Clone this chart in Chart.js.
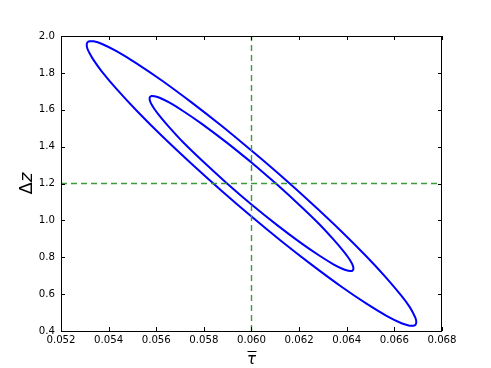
<!DOCTYPE html>
<html>
<head>
<meta charset="utf-8">
<script src="https://cdn.jsdelivr.net/npm/chart.js@4.4.1/dist/chart.umd.min.js"></script>
<style>
  html, body { margin: 0; padding: 0; background: #fff; }
</style>
</head>
<body>
<canvas id="contourChart" width="491" height="368"></canvas>
<script>
// Outer contour (tau bar, delta z)
const outerX = [0.06000, 0.06126, 0.06252, 0.06378, 0.06483, 0.06567, 0.06630, 0.06664, 0.06680, 0.06689, 0.06692,
    0.06689, 0.06680, 0.06664, 0.06630, 0.06567, 0.06483, 0.06378, 0.06252, 0.06126, 0.06000,
    0.05874, 0.05748, 0.05622, 0.05517, 0.05433, 0.05370, 0.05337, 0.05320, 0.05311, 0.05308,
    0.05311, 0.05320, 0.05337, 0.05370, 0.05433, 0.05517, 0.05622, 0.05748, 0.05874, 0.06000];
const outerY = [1.379, 1.239, 1.093, 0.940, 0.804, 0.687, 0.590, 0.531, 0.494, 0.469, 0.449,
    0.435, 0.429, 0.429, 0.442, 0.482, 0.548, 0.640, 0.760, 0.887, 1.021,
    1.161, 1.307, 1.460, 1.596, 1.713, 1.810, 1.869, 1.906, 1.931, 1.951,
    1.965, 1.971, 1.971, 1.958, 1.918, 1.852, 1.760, 1.640, 1.513, 1.379];

// Inner contour
const innerX = [0.06000, 0.06105, 0.06210, 0.06286, 0.06344, 0.06386, 0.06407, 0.06420, 0.06426, 0.06428,
    0.06426, 0.06420, 0.06407, 0.06386, 0.06344, 0.06286, 0.06210, 0.06105, 0.06000,
    0.05895, 0.05790, 0.05714, 0.05656, 0.05614, 0.05593, 0.05580, 0.05574, 0.05572,
    0.05574, 0.05580, 0.05593, 0.05614, 0.05656, 0.05714, 0.05790, 0.05895, 0.06000];
const innerY = [1.314, 1.197, 1.073, 0.978, 0.897, 0.833, 0.797, 0.770, 0.753, 0.739,
    0.730, 0.725, 0.727, 0.735, 0.762, 0.808, 0.875, 0.977, 1.086,
    1.203, 1.327, 1.422, 1.503, 1.567, 1.603, 1.630, 1.647, 1.661,
    1.670, 1.675, 1.673, 1.665, 1.638, 1.592, 1.525, 1.423, 1.314];

// Fiducial values (dashed lines)
const fidTau = 0.060;
const fidDz = 1.2;

// Axis ticks
const xTickValues = [0.052, 0.054, 0.056, 0.058, 0.060, 0.062, 0.064, 0.066, 0.068];
const yTickValues = [0.4, 0.6, 0.8, 1.0, 1.2, 1.4, 1.6, 1.8, 2.0];

const toPoints = (xs, ys) => xs.map((x, i) => ({ x: x, y: ys[i] }));

// Frame, inward ticks and the two axis titles
const framePlugin = {
    id: 'frame',
    afterDraw(chart) {
        const { ctx, chartArea: a, scales } = chart;
        ctx.save();
        ctx.strokeStyle = '#000';
        ctx.lineWidth = 1;
        ctx.strokeRect(a.left + 0.5, a.top + 0.5, a.right - a.left - 1, a.bottom - a.top);

        const tl = 4;
        ctx.beginPath();
        xTickValues.forEach(v => {
            const px = Math.round(scales.x.getPixelForValue(v)) + 0.5;
            ctx.moveTo(px, a.bottom);
            ctx.lineTo(px, a.bottom - tl);
            ctx.moveTo(px, a.top);
            ctx.lineTo(px, a.top + tl);
        });
        yTickValues.forEach(v => {
            const py = Math.round(scales.y.getPixelForValue(v)) + 0.5;
            ctx.moveTo(a.left, py);
            ctx.lineTo(a.left + tl, py);
            ctx.moveTo(a.right, py);
            ctx.lineTo(a.right - tl, py);
        });
        ctx.stroke();

        // y title: upright Delta, italic z, rotated
        ctx.fillStyle = '#000';
        ctx.textBaseline = 'middle';
        ctx.textAlign = 'left';
        const up = '18px "DejaVu Sans"';
        const it = 'italic 18px "DejaVu Sans"';
        ctx.font = up;
        const wD = ctx.measureText('\u0394').width;
        ctx.font = it;
        const wz = ctx.measureText('z').width;
        ctx.save();
        ctx.translate(27, (a.top + a.bottom) / 2);
        ctx.rotate(-Math.PI / 2);
        ctx.font = up;
        ctx.fillText('\u0394', -(wD + wz) / 2, 0);
        ctx.font = it;
        ctx.fillText('z', -(wD + wz) / 2 + wD, 0);
        ctx.restore();

        // x title: italic tau with a bar over it
        const cx = (a.left + a.right) / 2;
        ctx.font = 'italic 15px "DejaVu Sans"';
        ctx.textAlign = 'center';
        ctx.textBaseline = 'alphabetic';
        ctx.fillText('\u03C4', cx, 363.5);
        ctx.beginPath();
        ctx.moveTo(cx - 4, 351.5);
        ctx.lineTo(cx + 5, 351.5);
        ctx.stroke();
        ctx.restore();
    }
};

function initializeChart() {
    const ctx = document.getElementById('contourChart');

    new Chart(ctx, {
        type: 'scatter',
        data: {
            datasets: [
                {
                    data: [{ x: fidTau, y: 0.4 }, { x: fidTau, y: 2.0 }],
                    showLine: true,
                    borderColor: '#3c9c3c',
                    borderWidth: 1.4,
                    borderDash: [6, 4],
                    pointRadius: 0
                },
                {
                    data: [{ x: 0.052, y: fidDz }, { x: 0.068, y: fidDz }],
                    showLine: true,
                    borderColor: '#3c9c3c',
                    borderWidth: 1.4,
                    borderDash: [6, 4],
                    pointRadius: 0
                },
                {
                    data: toPoints(innerX, innerY),
                    showLine: true,
                    borderColor: '#0000ff',
                    borderWidth: 2,
                    tension: 0.3,
                    pointRadius: 0
                },
                {
                    data: toPoints(outerX, outerY),
                    showLine: true,
                    borderColor: '#0000ff',
                    borderWidth: 2,
                    tension: 0.3,
                    pointRadius: 0
                }
            ]
        },
        options: {
            responsive: false,
            animation: false,
            layout: {
                padding: { top: 36, right: 49, bottom: 0, left: 0 }
            },
            plugins: {
                legend: { display: false },
                tooltip: { enabled: false }
            },
            scales: {
                x: {
                    type: 'linear',
                    min: 0.052,
                    max: 0.068,
                    afterFit: s => { s.height = 37; },
                    afterBuildTicks: s => { s.ticks = xTickValues.map(v => ({ value: v })); },
                    grid: { display: false, drawTicks: false },
                    border: { display: false },
                    ticks: {
                        padding: 3,
                        color: '#000',
                        maxRotation: 0,
                        autoSkip: false,
                        font: { family: 'DejaVu Sans', size: 10.2 },
                        callback: v => v.toFixed(3)
                    }
                },
                y: {
                    type: 'linear',
                    min: 0.4,
                    max: 2.0,
                    afterFit: s => { s.width = 61; },
                    afterBuildTicks: s => { s.ticks = yTickValues.map(v => ({ value: v })); },
                    grid: { display: false, drawTicks: false },
                    border: { display: false },
                    ticks: {
                        padding: 6,
                        color: '#000',
                        autoSkip: false,
                        font: { family: 'DejaVu Sans', size: 10.2 },
                        callback: v => v.toFixed(1)
                    }
                }
            }
        },
        plugins: [framePlugin]
    });
}

document.addEventListener('DOMContentLoaded', initializeChart);
</script>
</body>
</html>
